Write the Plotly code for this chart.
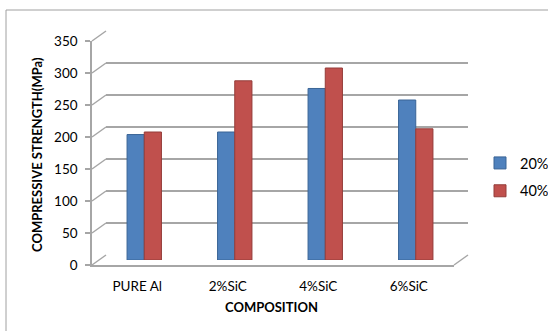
import plotly.graph_objects as go

categories = ["PURE Al", "2%SiC", "4%SiC", "6%SiC"]
s20 = [196, 200, 268, 250]
s40 = [200, 280, 300, 205]
yticks = [0, 50, 100, 150, 200, 250, 300, 350]

W, H = 548, 331

def px(x):
    return x / W

def py(y):
    return 1 - y / H

# back wall, mid-depth (bars) and front axes boxes in pixels
xd_main = [px(106), px(468)]
yd_main = [py(255), py(31)]
xd_mid = [px(99), px(461)]
yd_mid = [py(260), py(36)]
xd_front = [px(92), px(454)]
yd_front = [py(265), py(41)]

font = "Lato, 'Open Sans', sans-serif"
grid = "#A6A6A6"

fig = go.Figure()
fig.add_trace(go.Bar(x=categories, y=s20, name="20%", xaxis="x3", yaxis="y3",
                     marker=dict(color="#4F81BD", line=dict(color="#3A6496", width=1)), legendgroup="a"))
fig.add_trace(go.Bar(x=categories, y=s40, name="40%", xaxis="x3", yaxis="y3",
                     marker=dict(color="#C0504D", line=dict(color="#943C3A", width=1)), legendgroup="b"))
# invisible traces carrying the back-wall and front axes
fig.add_trace(go.Scatter(x=categories, y=[None] * 4, xaxis="x", yaxis="y",
                         showlegend=False, hoverinfo="skip"))
fig.add_trace(go.Scatter(x=categories, y=[None] * 4, xaxis="x2", yaxis="y2",
                         showlegend=False, hoverinfo="skip"))

hidden = dict(showticklabels=False, ticks="", showgrid=False, showline=False, zeroline=False,
              automargin=False)

fig.update_layout(
    width=W, height=H, margin=dict(l=0, r=0, t=0, b=0, autoexpand=False),
    paper_bgcolor="white", plot_bgcolor="rgba(0,0,0,0)",
    font=dict(family=font, size=13, color="#000"),
    barmode="group", bargap=0.62, bargroupgap=0.0,
    xaxis=dict(domain=xd_main, range=[-0.5, 3.5], **hidden),
    yaxis=dict(domain=yd_main, range=[0, 350], tickvals=yticks, showticklabels=False, ticks="",
               showgrid=True, gridcolor=grid, gridwidth=1.5, zeroline=False, showline=False,
               automargin=False),
    xaxis3=dict(domain=xd_mid, range=[-0.5, 3.5], anchor="y3", **hidden),
    yaxis3=dict(domain=yd_mid, range=[0, 350], anchor="x3", **hidden),
    xaxis2=dict(domain=xd_front, range=[-0.5, 3.5], anchor="y2", showgrid=False, zeroline=False,
                showline=True, linecolor=grid, linewidth=1.5, ticks="", automargin=False,
                tickfont=dict(size=13.5), ticklabelstandoff=8),
    yaxis2=dict(domain=yd_front, range=[0, 350], anchor="x2", tickvals=yticks, showgrid=False,
                zeroline=False, showline=True, linecolor=grid, linewidth=1.5, ticks="outside",
                ticklen=5, tickcolor=grid, tickwidth=1.5, tickfont=dict(size=13.5),
                ticklabelstandoff=5, automargin=False),
    legend=dict(x=px(480), y=py(147), xanchor="left", yanchor="top",
                font=dict(size=14.5), traceorder="grouped", tracegroupgap=6, itemwidth=30,
                bgcolor="rgba(0,0,0,0)"),
    showlegend=True,
    annotations=[
        dict(text="<b>COMPRESSIVE STRENGTH(MPa)</b>", xref="paper", yref="paper", x=px(37), y=py(155),
             textangle=-90, showarrow=False, font=dict(size=13), xanchor="center", yanchor="middle"),
        dict(text="<b>COMPOSITION</b>", xref="paper", yref="paper", x=px(271), y=py(307),
             showarrow=False, font=dict(size=13), xanchor="center", yanchor="middle"),
    ],
)

shapes = []
def fy(v, d):
    return d[0] + v / 350 * (d[1] - d[0])
# depth spokes from the front axis to the back wall at each tick
for v in yticks:
    shapes.append(dict(type="line", xref="paper", yref="paper", x0=xd_front[0], y0=fy(v, yd_front),
                       x1=xd_main[0], y1=fy(v, yd_main), line=dict(color=grid, width=1.5)))
# floor right edge
shapes.append(dict(type="line", xref="paper", yref="paper", x0=xd_front[1], y0=yd_front[0],
                   x1=xd_main[1], y1=yd_main[0], line=dict(color=grid, width=1.5)))
# outer chart border (top and left)
shapes.append(dict(type="line", xref="paper", yref="paper", x0=px(6), y0=py(10), x1=px(W + 5), y1=py(10),
                   line=dict(color="#A0A0A0", width=1)))
shapes.append(dict(type="line", xref="paper", yref="paper", x0=px(6), y0=py(10), x1=px(6), y1=py(H + 5),
                   line=dict(color="#A0A0A0", width=1)))
fig.update_layout(shapes=shapes)

fig.write_html("out.html", config={"displayModeBar": False},
               post_script="document.body.style.margin='0';document.body.style.padding='0';"
                           "document.body.style.overflow='hidden';")
